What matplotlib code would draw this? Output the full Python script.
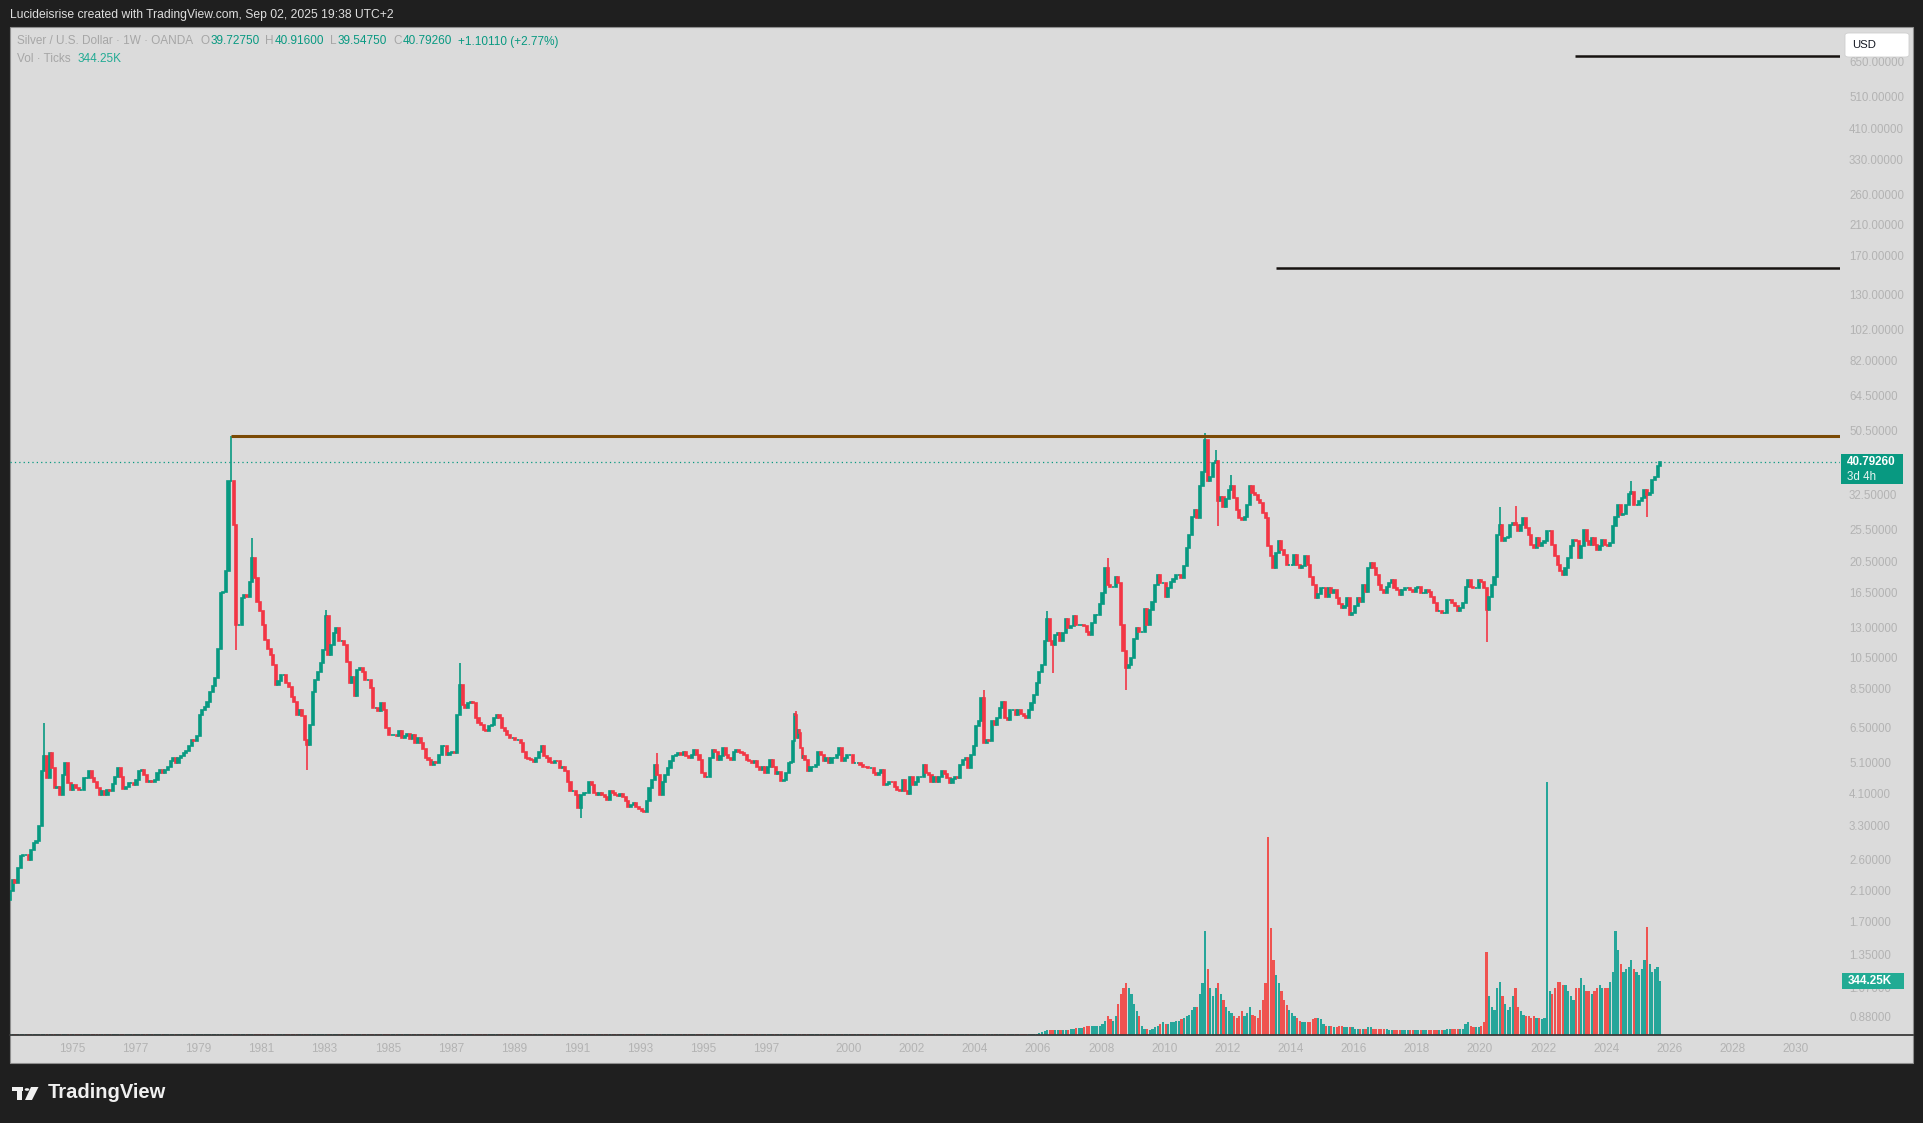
import matplotlib
matplotlib.use("Agg")
import matplotlib.pyplot as plt
import numpy as np
from matplotlib.patches import Rectangle, FancyBboxPatch, Polygon, Circle
from matplotlib.lines import Line2D
from matplotlib.ticker import NullLocator

W, H = 1924, 1123
FONT = "Liberation Sans"

BG_OUT = "#1f1f1f"
BG_PANEL = "#dbdbdb"
UP = "#089981"
DOWN = "#f23645"
VOL_UP = "#26a69a"
VOL_DOWN = "#ef5350"
TICK_TXT = "#b3b3b3"
HEAD_TXT = "#a6a6a6"

# monthly closes of silver (USD)
closes_1970s = [
    2.09, 2.26, 2.21, 2.45, 2.66, 2.69, 2.69, 2.60, 2.78, 2.92, 2.95, 3.27,   # 1973
    4.79, 5.31, 4.57, 5.43, 4.89, 4.26, 4.31, 4.07, 4.68, 5.07, 4.41, 4.22,   # 1974
    4.36, 4.26, 4.22, 4.22, 4.57, 4.57, 4.79, 4.57, 4.44, 4.26, 4.07, 4.17,   # 1975
    4.07, 4.20, 4.17, 4.38, 4.62, 4.90, 4.62, 4.24, 4.29, 4.41, 4.41, 4.36,   # 1976
    4.52, 4.81, 4.84, 4.68, 4.44, 4.48, 4.46, 4.52, 4.73, 4.84, 4.73, 4.84,   # 1977
    4.95, 5.13, 5.25, 5.07, 5.25, 5.31, 5.43, 5.52, 5.69, 5.96, 5.92, 6.10,   # 1978
    7.08, 7.34, 7.50, 7.76, 8.32, 8.62, 9.13, 11.2, 16.4, 16.6, 19.1, 35.6,   # 1979
]
closes_1980s = [
    35.6, 26.4, 13.2, 13.2, 15.9, 16.2, 16.0, 17.8, 20.9, 18.2, 15.5, 14.5,   # 1980
    13.2, 11.9, 11.2, 10.7, 10.0, 8.72, 8.92, 9.34, 9.34, 8.81, 8.61, 8.03,   # 1981
    7.76, 7.08, 7.34, 7.00, 5.96, 5.75, 6.61, 8.32, 9.02, 9.55, 10.1, 11.1,   # 1982
    14.0, 10.7, 11.5, 12.5, 12.9, 11.8, 11.8, 11.5, 10.2, 8.81, 9.23, 8.09,   # 1983
    9.67, 9.78, 9.55, 9.02, 9.02, 8.51, 7.42, 7.42, 7.25, 7.66, 7.34, 6.46,   # 1984
    6.17, 6.17, 6.17, 6.10, 6.34, 6.03, 6.10, 6.20, 6.00, 6.17, 5.82, 6.03,   # 1985
    5.82, 5.60, 5.25, 5.19, 5.01, 5.11, 5.07, 5.37, 5.69, 5.69, 5.37, 5.43,   # 1986
    5.49, 5.43, 7.08, 8.71, 7.59, 7.42, 7.66, 7.76, 7.66, 6.92, 6.69, 6.61,   # 1987
    6.39, 6.31, 6.54, 6.61, 6.92, 7.08, 6.92, 6.46, 6.31, 6.17, 6.03, 6.03,   # 1988
    5.96, 5.96, 5.82, 5.49, 5.25, 5.21, 5.19, 5.11, 5.25, 5.49, 5.69, 5.31,   # 1989
]
closes_1990s = [
    5.25, 5.11, 5.07, 5.15, 5.13, 4.90, 4.95, 4.79, 4.46, 4.17, 4.17, 4.07,   # 1990
    3.71, 4.07, 4.12, 4.12, 4.46, 4.36, 4.12, 4.07, 4.12, 4.07, 4.02, 3.93,   # 1991
    4.17, 4.12, 4.07, 4.05, 4.09, 4.00, 3.89, 3.73, 3.80, 3.84, 3.73, 3.69,   # 1992
    3.65, 3.61, 3.89, 4.26, 4.52, 5.01, 4.68, 4.07, 4.46, 4.66, 4.90, 5.13,   # 1993
    5.31, 5.37, 5.43, 5.37, 5.49, 5.31, 5.25, 5.37, 5.56, 5.37, 5.19, 4.73,   # 1994
    4.62, 4.62, 5.25, 5.56, 5.49, 5.19, 5.31, 5.62, 5.37, 5.27, 5.19, 5.49,   # 1995
    5.56, 5.49, 5.43, 5.37, 5.19, 5.13, 5.07, 5.13, 4.92, 4.84, 4.92, 4.73,   # 1996
    4.95, 5.19, 4.92, 4.70, 4.77, 4.48, 4.52, 4.73, 5.07, 5.10, 5.89, 7.10,   # 1997
    7.05, 6.03, 6.39, 6.24, 5.62, 5.27, 5.31, 5.19, 4.79, 4.95, 4.95, 5.01,   # 1998
    5.49, 5.37, 5.13, 5.25, 5.07, 5.25, 5.27, 5.37, 5.62, 5.13, 5.25, 5.35,   # 1999
]
closes_2000s = [
    5.37, 5.07, 5.07, 5.07, 5.01, 4.95, 4.92, 4.90, 4.90, 4.73, 4.66, 4.73,   # 2000
    4.84, 4.36, 4.38, 4.46, 4.44, 4.31, 4.22, 4.17, 4.52, 4.17, 4.09, 4.62,   # 2001
    4.36, 4.46, 4.62, 4.62, 4.99, 4.73, 4.66, 4.46, 4.62, 4.46, 4.62, 4.79,   # 2002
    4.70, 4.57, 4.41, 4.55, 4.62, 4.57, 5.01, 5.19, 5.25, 4.90, 5.37, 5.69,   # 2003
    6.54, 6.77, 7.94, 5.82, 5.96, 5.89, 6.80, 6.61, 6.92, 7.42, 7.76, 6.92,   # 2004
    6.84, 7.34, 7.34, 7.08, 7.34, 7.11, 7.00, 6.95, 7.34, 7.66, 8.12, 8.81,   # 2005
    9.55, 10.0, 11.8, 13.7, 11.8, 11.5, 12.3, 12.5, 11.8, 12.5, 13.7, 12.9,   # 2006
    13.1, 14.0, 13.2, 13.2, 13.2, 13.1, 12.6, 12.3, 13.4, 14.1, 14.1, 15.2,   # 2007
    16.4, 19.5, 17.4, 17.2, 17.2, 18.4, 17.6, 13.2, 11.0, 9.78, 9.99, 10.5,   # 2008
    12.0, 12.9, 12.6, 12.6, 14.7, 13.2, 14.6, 15.5, 17.4, 18.6, 17.6, 17.6,   # 2009
]
closes_2010s = [
    16.0, 17.0, 17.8, 18.1, 18.6, 18.6, 18.2, 19.8, 22.4, 24.6, 27.9, 29.2,   # 2010
    27.6, 34.4, 38.1, 47.5, 35.6, 36.8, 40.4, 40.9, 31.0, 32.0, 29.9, 31.6,   # 2011
    33.6, 34.4, 31.7, 29.2, 27.6, 27.3, 27.9, 30.3, 34.4, 32.8, 32.4, 31.3,   # 2012
    30.6, 28.6, 27.6, 22.7, 21.2, 19.5, 21.7, 23.5, 22.2, 21.4, 19.9, 19.9,   # 2013
    19.9, 21.4, 19.9, 19.5, 19.8, 21.2, 19.9, 18.4, 17.4, 15.9, 16.3, 17.0,   # 2014
    17.0, 16.0, 17.0, 16.4, 16.8, 15.9, 15.2, 14.8, 15.0, 15.9, 14.1, 14.3,   # 2015
    15.0, 15.9, 15.5, 17.4, 16.6, 19.5, 20.2, 19.5, 18.6, 17.4, 16.8, 16.4,   # 2016
    17.2, 17.6, 18.0, 17.0, 16.8, 16.2, 16.8, 17.0, 17.0, 16.8, 16.6, 17.0,   # 2017
    17.2, 16.4, 16.4, 16.8, 16.6, 16.0, 15.3, 14.5, 14.5, 14.3, 14.3, 15.7,   # 2018
    15.7, 15.3, 15.0, 14.5, 14.8, 15.3, 17.2, 18.0, 17.2, 17.0, 17.0, 18.0,   # 2019
]
closes_2020s = [
    17.8, 17.0, 14.6, 16.0, 17.4, 18.4, 24.6, 26.4, 23.5, 24.0, 24.3, 26.4,   # 2020
    26.7, 26.4, 25.2, 26.4, 27.6, 25.8, 24.6, 23.0, 22.4, 24.0, 22.7, 23.2,   # 2021
    23.5, 25.2, 25.2, 23.0, 21.2, 19.9, 19.1, 18.6, 19.5, 20.9, 22.7, 23.7,   # 2022
    23.5, 20.9, 22.7, 25.5, 23.5, 23.0, 24.0, 23.0, 22.2, 22.7, 23.7, 23.0,   # 2023
    22.7, 23.2, 26.1, 27.9, 30.3, 28.2, 28.5, 30.3, 32.6, 33.2, 30.3, 30.3,   # 2024
    31.0, 31.7, 33.6, 32.4, 32.8, 36.0, 36.8, 39.5, 40.7926,                  # 2025
]
first_open = 1.97

# wick extremes visible on the chart, (year, month) -> price
wick_highs = {(1974, 2): 6.69, (1980, 1): 48.9, (1980, 9): 24.0, (1983, 1): 14.6,
              (1987, 4): 10.1, (1993, 7): 5.43, (1998, 1): 7.29, (2004, 4): 8.4,
              (2006, 4): 14.5, (2008, 3): 20.9, (2011, 4): 49.8, (2011, 8): 44.3,
              (2012, 2): 37.3, (2020, 8): 29.9, (2021, 2): 30.0, (2024, 10): 35.6}
wick_lows = {(1980, 3): 11.1, (1982, 6): 4.84, (1991, 2): 3.46, (2006, 6): 9.44,
             (2008, 10): 8.4, (2011, 9): 26.1, (2020, 3): 11.76, (2025, 4): 27.9}

# volume (thousand ticks per week), one value per month from Jan 2006
vol_k_2006_on = [
    15, 20, 25, 30, 35, 30, 30, 30, 30, 35, 35, 35,            # 2006
    40, 40, 45, 45, 45, 50, 55, 60, 55, 55, 60, 60,            # 2007
    70, 90, 120, 100, 90, 120, 200, 260, 300, 330, 300, 260,   # 2008
    200, 150, 120, 60, 40, 40, 35, 40, 50, 60, 70, 80,         # 2009
    70, 70, 80, 80, 90, 90, 100, 110, 120, 130, 160, 180,      # 2010
    180, 260, 330, 660, 420, 300, 250, 300, 330, 260, 220, 180,  # 2011
    150, 140, 120, 110, 120, 150, 120, 140, 180, 130, 120, 110,  # 2012
    160, 220, 330, 1260, 680, 480, 380, 330, 280, 220, 190, 160,  # 2013
    140, 120, 110, 90, 80, 80, 80, 80, 100, 110, 110, 100,     # 2014
    70, 60, 60, 60, 50, 50, 60, 60, 50, 50, 50, 50,            # 2015
    40, 40, 40, 40, 40, 50, 50, 40, 40, 40, 40, 40,            # 2016
    40, 35, 35, 35, 35, 35, 35, 35, 35, 30, 30, 30,            # 2017
    30, 30, 30, 30, 30, 30, 30, 35, 35, 35, 35, 40,            # 2018
    40, 40, 40, 40, 40, 40, 70, 80, 60, 50, 50, 50,            # 2019
    60, 80, 530, 250, 180, 160, 300, 340, 250, 200, 160, 180,  # 2020
    250, 300, 180, 150, 130, 120, 120, 110, 120, 110, 110, 100,  # 2021
    110, 1610, 280, 260, 300, 340, 340, 320, 320, 280, 250, 220,  # 2022
    300, 300, 360, 320, 280, 280, 260, 280, 300, 320, 300, 300,  # 2023
    300, 340, 400, 660, 540, 450, 400, 420, 430, 480, 420, 400,  # 2024
    380, 420, 480, 690, 450, 400, 420, 430, 344.25,             # 2025
]
early_vol_k = 6   # hairline of volume before 2006

resistance = 48.9          # brown line from the 1980 top
resistance_from = 1980.05
targets = [156.0, 677.0]   # black target lines
targets_from = [2013.54, 2023.01]
last_price = 40.7926
last_vol_k = 344.25

year_ticks = [1975, 1977, 1979, 1981, 1983, 1985, 1987, 1989, 1991, 1993, 1995, 1997,
              2000, 2002, 2004, 2006, 2008, 2010, 2012, 2014, 2016, 2018, 2020, 2022,
              2024, 2026, 2028, 2030]
price_ticks = [650, 510, 410, 330, 260, 210, 170, 130, 102, 82, 64.5, 50.5, 40.5, 32.5,
               25.5, 20.5, 16.5, 13, 10.5, 8.5, 6.5, 5.1, 4.1, 3.3, 2.6, 2.1, 1.7, 1.35,
               1.07, 0.88]


def bar_time(t):
    # the time axis is bar based and the feed thins out around early 1998
    if t <= 1997.8:
        return t
    if t >= 1998.6:
        return t - 0.4
    return 1997.8 + (t - 1997.8) * 0.5


def fx(x):
    return x / W


def fy(y):
    return 1 - y / H


closes = closes_1970s + closes_1980s + closes_1990s + closes_2000s + closes_2010s + closes_2020s
n = len(closes)
c = np.array(closes)
o = np.array([first_open] + closes[:-1])
month_start = [1973 + i / 12 for i in range(n)]
left = np.array([bar_time(t) for t in month_start])
right = np.array([bar_time(t + 1 / 12) for t in month_start])
mid = (left + right) / 2
span = right - left
rising = c >= o
body_col = np.where(rising, UP, DOWN)
vol_col = np.where(rising, VOL_UP, VOL_DOWN)

vol = np.full(n, float(early_vol_k))
vol[n - len(vol_k_2006_on):] = vol_k_2006_on

fig = plt.figure(figsize=(W / 100, H / 100), dpi=100, facecolor=BG_OUT)
fig.patches.append(Rectangle((fx(10), fy(1063)), fx(1903), 1036 / H, transform=fig.transFigure,
                             facecolor=BG_PANEL, edgecolor="#8e8e8e", linewidth=0.8, zorder=-10))

ax = fig.add_axes([fx(10), fy(1035), fx(1830), 1008 / H])
axv = ax.twinx()
ax.set_zorder(2)
axv.set_zorder(1)
for a in (ax, axv):
    a.patch.set_alpha(0)
    for s in a.spines.values():
        s.set_visible(False)

# volume overlay
axv.bar(mid, vol * 1000, width=span * 0.85, color=vol_col, linewidth=0)
axv.set_ylim(0, 1008 * 6.37e3)
axv.set_yticks([])

# candles
lo = np.minimum(o, c)
hi = np.maximum(o, c)
ax.bar(mid, hi - lo, bottom=lo, width=span * 0.8, color=body_col, edgecolor=body_col,
       linewidth=1.2, zorder=3)
for (yr, mo), v in wick_highs.items():
    i = (yr - 1973) * 12 + mo - 1
    ax.vlines(mid[i], hi[i], v, color=body_col[i], linewidth=1.2, zorder=3)
for (yr, mo), v in wick_lows.items():
    i = (yr - 1973) * 12 + mo - 1
    ax.vlines(mid[i], v, lo[i], color=body_col[i], linewidth=1.2, zorder=3)

x_left, x_right = 1975 - 62 / 31.57, 1975 + 1768 / 31.57
ax.set_yscale("log")
ax.set_ylim(0.7726, 826)
ax.set_xlim(x_left, x_right)

# drawings
ax.hlines(resistance, bar_time(resistance_from), x_right, color="#7b4a05", linewidth=2.2, zorder=4)
for lvl, t0 in zip(targets, targets_from):
    ax.hlines(lvl, bar_time(t0), x_right, color="#161210", linewidth=1.8, zorder=4)
ax.axhline(last_price, color=UP, linestyle=(0, (1, 2.5)), linewidth=0.9, zorder=2)

ax.set_xticks([bar_time(y) for y in year_ticks])
ax.set_xticklabels([str(y) for y in year_ticks])
ax.yaxis.tick_right()
ax.set_yticks(price_ticks)
ax.set_yticklabels([f"{v:.5f}" for v in price_ticks])
ax.yaxis.set_minor_locator(NullLocator())
ax.tick_params(axis="x", length=0, pad=6, labelsize=8.5, labelcolor=TICK_TXT)
ax.tick_params(axis="y", length=0, pad=6.5, labelsize=8.3, labelcolor=TICK_TXT)
for lab in ax.get_xticklabels() + ax.get_yticklabels():
    lab.set_family(FONT)

fig.add_artist(Line2D([fx(10), fx(1913)], [fy(1035), fy(1035)], color="#3a3a3a", linewidth=1.3))

# price-scale labels
fig.canvas.draw()
py = H - ax.transData.transform((x_right, last_price))[1]
fig.patches.append(Rectangle((fx(1841), fy(py + 22)), fx(62), 30 / H, transform=fig.transFigure,
                             facecolor=UP, edgecolor="none", zorder=5))
fig.text(fx(1847), fy(py), "40.79260", color="white", fontsize=8.4, fontweight="bold",
         va="center", ha="left", family=FONT, zorder=6)
fig.text(fx(1847), fy(py + 15), "3d 4h", color="#e6f4f1", fontsize=8.4,
         va="center", ha="left", family=FONT, zorder=6)
vy = H - axv.transData.transform((x_right, last_vol_k * 1000))[1]
fig.patches.append(Rectangle((fx(1842), fy(vy + 8)), fx(62), 16 / H, transform=fig.transFigure,
                             facecolor="#22ab94", edgecolor="none", zorder=5))
fig.text(fx(1848), fy(vy), "344.25K", color="white", fontsize=8.4, fontweight="bold",
         va="center", ha="left", family=FONT, zorder=6)
fig.patches.append(FancyBboxPatch((fx(1845), fy(57)), fx(64), 24 / H, transform=fig.transFigure,
                                  boxstyle="round,pad=0,rounding_size=0.002",
                                  facecolor="white", edgecolor="#cfcfcf", linewidth=0.6, zorder=5))
fig.text(fx(1852), fy(44.5), "USD", color="#131722", fontsize=8.2, va="center", ha="left",
         family=FONT, zorder=6)

# legend line of the symbol
renderer = fig.canvas.get_renderer()


def run_text(x, y, parts, size):
    for s, col, gap in parts:
        t = fig.text(fx(x), fy(y), s, color=col, fontsize=size, va="center", ha="left", family=FONT)
        x += t.get_window_extent(renderer=renderer).width + gap


run_text(17, 41.5, [("Silver / U.S. Dollar · 1W · OANDA", HEAD_TXT, 7), ("O", HEAD_TXT, 1),
                    ("39.72750", UP, 6), ("H", HEAD_TXT, 1), ("40.91600", UP, 6),
                    ("L", HEAD_TXT, 1), ("39.54750", UP, 6), ("C", HEAD_TXT, 1),
                    ("40.79260", UP, 6), ("+1.10110 (+2.77%)", UP, 0)], 8.5)
run_text(17, 59, [("Vol · Ticks", HEAD_TXT, 7), ("344.25K", "#22ab94", 0)], 8.5)

fig.text(fx(10), fy(15), "Lucideisrise created with TradingView.com, Sep 02, 2025 19:38 UTC+2",
         color="#dedede", fontsize=8.7, va="center", ha="left", family=FONT)

# TradingView logo
logo = "#f0f0f0"
fig.patches.append(Rectangle((fx(12), fy(1091)), fx(11), 4 / H, transform=fig.transFigure, facecolor=logo))
fig.patches.append(Rectangle((fx(16.5), fy(1100)), fx(5), 13 / H, transform=fig.transFigure, facecolor=logo))
fig.patches.append(Circle((fx(27), fy(1089.5)), fx(2.3), transform=fig.transFigure, facecolor=logo))
fig.patches.append(Polygon([(fx(31), fy(1087)), (fx(38.5), fy(1087)), (fx(32), fy(1100)), (fx(25), fy(1100))],
                           closed=True, transform=fig.transFigure, facecolor=logo))
fig.text(fx(48), fy(1092), "TradingView", color=logo, fontsize=14.5, fontweight="bold",
         va="center", ha="left", family=FONT)

fig.savefig("out.png", dpi=100, facecolor=BG_OUT)
